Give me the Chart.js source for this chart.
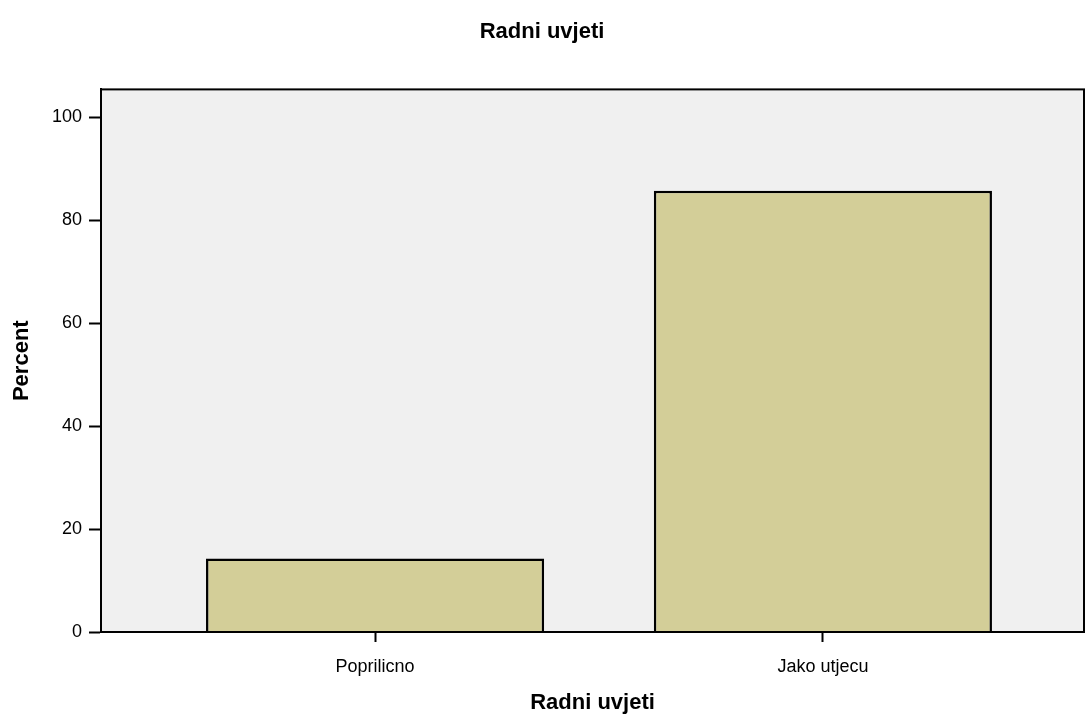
<!DOCTYPE html>
<html>
<head>
<meta charset="utf-8">
<script src="https://cdn.jsdelivr.net/npm/chart.js@4.4.0/dist/chart.umd.min.js"></script>
<style>
  html, body { margin: 0; padding: 0; background: #ffffff; }
  #wrap { width: 1086px; height: 714px; }
</style>
</head>
<body>
<div id="wrap"><canvas id="chart"></canvas></div>
<script>
// values
const categories = ["Poprilicno", "Jako utjecu"];
const percentValues = [14.29, 85.71];
const yTicks = [0, 20, 40, 60, 80, 100];

const FONT = "'Liberation Sans', Arial, sans-serif";

// grey plot box with black frame
const plotFrame = {
  id: "plotFrame",
  beforeDraw(chart) {
    const { ctx, chartArea: a } = chart;
    ctx.save();
    ctx.fillStyle = "#f0f0f0";
    ctx.fillRect(a.left, a.top, a.right - a.left, a.bottom - a.top);
    ctx.restore();
  },
  afterDatasetsDraw(chart) {
    const { ctx, chartArea: a } = chart;
    ctx.save();
    ctx.strokeStyle = "#000";
    ctx.lineWidth = 2;
    ctx.strokeRect(a.left, a.top, a.right - a.left, a.bottom - a.top);
    ctx.restore();
  }
};

const ctx = document.getElementById("chart");

new Chart(ctx, {
  type: "bar",
  data: {
    datasets: [
      {
        data: percentValues.map((v, i) => ({ x: i + 1, y: v })),
        backgroundColor: "#d3ce98",
        borderColor: "#000",
        borderWidth: 2.5,
        categoryPercentage: 1,
        barPercentage: 0.755
      }
    ]
  },
  options: {
    responsive: true,
    maintainAspectRatio: false,
    animation: false,
    layout: { padding: { right: 2 } },
    plugins: {
      legend: { display: false },
      tooltip: { enabled: false },
      title: {
        display: true,
        text: "Radni uvjeti",
        color: "#000",
        font: { family: FONT, size: 22, weight: "bold" },
        padding: { top: 19, bottom: 44 }
      }
    },
    scales: {
      x: {
        type: "linear",
        offset: false,
        min: 0.388,
        max: 2.583,
        afterBuildTicks: scale => {
          scale.ticks = categories.map((c, i) => ({ value: i + 1 }));
        },
        afterFit: scale => {
          scale.height = 82;
        },
        ticks: {
          color: "#000",
          font: { family: FONT, size: 18 },
          padding: 14,
          maxRotation: 0,
          autoSkip: false,
          callback: v => categories[v - 1]
        },
        grid: {
          offset: false,
          drawOnChartArea: false,
          drawTicks: true,
          tickLength: 10,
          tickWidth: 2,
          tickColor: "#000"
        },
        border: { display: true, color: "#000", width: 2 },
        title: {
          display: true,
          text: "Radni uvjeti",
          color: "#000",
          font: { family: FONT, size: 22, weight: "bold", lineHeight: 1 },
          padding: { top: 0, bottom: 0 }
        }
      },
      y: {
        min: 0,
        max: 105.4,
        afterBuildTicks: scale => {
          scale.ticks = yTicks.map(v => ({ value: v }));
        },
        afterFit: scale => {
          scale.width = 101;
        },
        ticks: {
          color: "#000",
          font: { family: FONT, size: 18 },
          padding: 7
        },
        grid: {
          drawOnChartArea: false,
          drawTicks: true,
          tickLength: 12,
          tickWidth: 2,
          tickColor: "#000"
        },
        border: { display: true, color: "#000", width: 2 },
        title: {
          display: true,
          text: "Percent",
          color: "#000",
          font: { family: FONT, size: 22, weight: "bold" },
          padding: { top: 9, bottom: 0 }
        }
      }
    }
  },
  plugins: [plotFrame]
});
</script>
</body>
</html>
